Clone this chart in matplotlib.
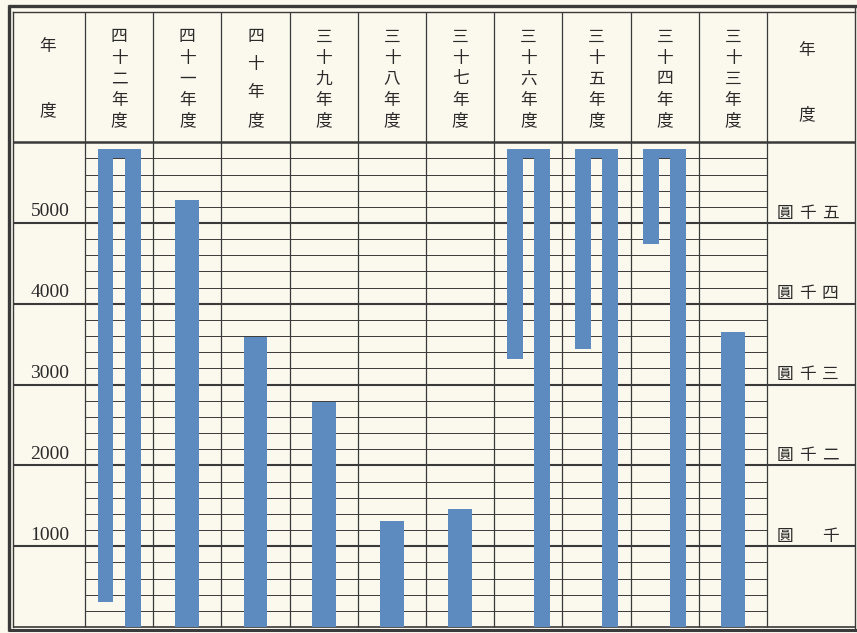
import matplotlib
matplotlib.use('Agg')
import matplotlib.pyplot as plt

# ---------------- data ----------------
years = ['四十二年度', '四十一年度', '四十年度', '三十九年度', '三十八年度',
         '三十七年度', '三十六年度', '三十五年度', '三十四年度', '三十三年度']
# amounts in yen; bars taller than the frame fold back down (folded bars)
amounts = [11530, 5290, 3590, 2790, 1310, 1460, 8520, 8400, 7100, 3650]
major_ticks = [1000, 2000, 3000, 4000, 5000]
left_labels = ['1000', '2000', '3000', '4000', '5000']
right_labels = ['圓　千', '圓千二', '圓千三', '圓千四', '圓千五']
corner_label = ['年', '度']

AXIS_TOP = 6000
FOLD_TOP = 5920
FOLD_THICK = 110
MINOR_STEP = 200

# ---------------- layout ----------------
W, H = 857, 633
fig = plt.figure(figsize=(W / 100, H / 100), dpi=100)
BG = '#fbf9ee'
BAR = '#5d8abf'
LINE = '#3a3a3a'
TXT = '#2a2a2a'
fig.patch.set_facecolor(BG)
ax = fig.add_axes([0, 0, 1, 1])
ax.set_facecolor(BG)
ax.axis('off')

COL_PX = 68.2
X0_PX = 85
Y0_PX = 627
PX_PER_UNIT = 0.0808


def X(px):
    return (px - X0_PX) / COL_PX


def Y(py):
    return (Y0_PX - py) / PX_PER_UNIT


ax.set_xlim(X(0), X(W))
ax.set_ylim(Y(H), Y(0))

n = len(years)
cjk = ['Noto Sans CJK JP', 'DejaVu Sans']

# ---- frame ----
ax.plot([X(9), X(9)], [Y(5), Y(631)], color=LINE, lw=2.4, solid_capstyle='butt')
ax.plot([X(8), X(W)], [Y(6), Y(6)], color=LINE, lw=2.4, solid_capstyle='butt')
ax.plot([X(8), X(W)], [Y(630), Y(630)], color=LINE, lw=2.2, solid_capstyle='butt')
ax.plot([X(13), X(13)], [Y(12), Y(627)], color=LINE, lw=1.0)
ax.plot([X(13), X(855)], [Y(12), Y(12)], color=LINE, lw=1.0)
ax.plot([X(855), X(855)], [Y(6), Y(630)], color=LINE, lw=1.0)

# ---- grid ----
minor = [v for v in range(MINOR_STEP, AXIS_TOP, MINOR_STEP) if v % 1000 != 0]
ax.hlines(minor, 0, n, color=LINE, lw=0.7, zorder=1)
ax.hlines(major_ticks, X(13), X(855), color=LINE, lw=1.5, zorder=1)
ax.hlines([0], X(13), X(855), color=LINE, lw=1.2, zorder=1)
ax.hlines([AXIS_TOP], X(13), X(855), color=LINE, lw=1.8, zorder=1)
ax.vlines(range(0, n + 1), 0, Y(12), color=LINE, lw=0.9, zorder=1)

# ---- bars ----
for i, v in enumerate(amounts):
    if v <= FOLD_TOP:
        ax.bar(i + 0.5, v, width=0.35, color=BAR, zorder=3, linewidth=0)
    else:
        low = 2 * FOLD_TOP - v
        ax.bar(i + 0.70, FOLD_TOP, width=0.23, color=BAR, zorder=3, linewidth=0)
        ax.bar(i + 0.30, FOLD_TOP - low, width=0.23, bottom=low,
               color=BAR, zorder=3, linewidth=0)
        ax.bar(i + 0.50, FOLD_THICK, width=0.63, bottom=FOLD_TOP - FOLD_THICK,
               color=BAR, zorder=3, linewidth=0)

# ---- header ----
for i, lab in enumerate(years):
    k = len(lab)
    top_px, bot_px = 37, 121
    step = (bot_px - top_px) / (k - 1)
    for j, ch in enumerate(lab):
        ax.text(i + 0.5, Y(top_px + j * step), ch, ha='center', va='center',
                fontsize=12, family=cjk, color=TXT)

for cx, ys in ((48, (47, 111)), (807, (50, 115))):
    for ch, py in zip(corner_label, ys):
        ax.text(X(cx), Y(py), ch, ha='center', va='center',
                fontsize=12, family=cjk, color=TXT)

# ---- axis labels ----
for v, lab in zip(major_ticks, left_labels):
    ax.text(X(50), v + 11 / PX_PER_UNIT, lab, ha='center', va='center',
            fontsize=14, family=['Liberation Serif'], color=TXT)

for v, lab in zip(major_ticks, right_labels):
    for ch, cx in zip(lab, (785, 807, 830)):
        if ch.strip() == '' or ch == '　':
            continue
        ax.text(X(cx), v + 10 / PX_PER_UNIT, ch, ha='center', va='center',
                fontsize=12, family=cjk, color=TXT)

fig.savefig('out.png', dpi=100, facecolor=BG)
